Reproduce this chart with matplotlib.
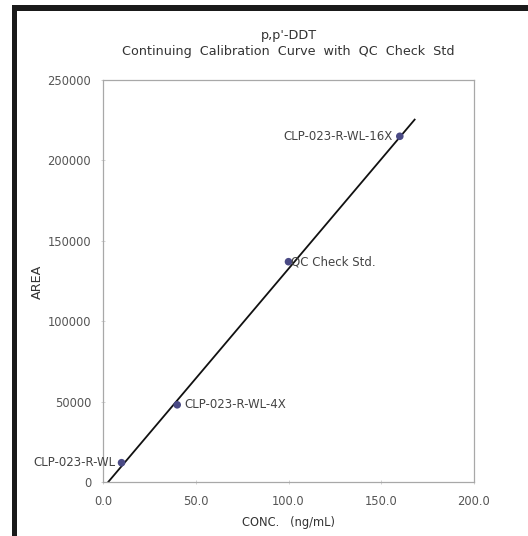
import numpy as np
import matplotlib
matplotlib.use("Agg")
import matplotlib.pyplot as plt
from matplotlib.patches import Rectangle

# Data
labels = ["CLP-023-R-WL", "CLP-023-R-WL-4X", "QC Check Std.", "CLP-023-R-WL-16X"]
conc = [10.0, 40.0, 100.0, 160.0]
area = [12000, 48000, 137000, 215000]
calib_idx = [0, 1, 3]
xticks = [0, 50, 100, 150, 200]
yticks = [0, 50000, 100000, 150000, 200000, 250000]

plt.rcParams['font.family'] = ['DejaVu Sans']

W, H = 528, 536
fig = plt.figure(figsize=(W / 100, H / 100), dpi=100)
fig.patch.set_facecolor("white")

# outer black frame (top and left)
fig.add_artist(Rectangle((12 / W, 0), 5 / W, 1 - 5 / H, transform=fig.transFigure,
                         facecolor="#1a1a1a", edgecolor="none"))
fig.add_artist(Rectangle((12 / W, 1 - 11 / H), 1 - 12 / W, 6 / H, transform=fig.transFigure,
                         facecolor="#1a1a1a", edgecolor="none"))

left, right, top, bottom = 103, 474, 80, 482
ax = fig.add_axes([left / W, 1 - bottom / H, (right - left) / W, (bottom - top) / H])

# trendline from calibration points
cx = np.array([conc[i] for i in calib_idx])
cy = np.array([area[i] for i in calib_idx])
slope, intercept = np.polyfit(cx, cy, 1)
x0 = -intercept / slope
xl = np.array([x0, 168.0])
ax.plot(xl, slope * xl + intercept, color="#111111", lw=1.3, zorder=2)

ax.scatter(conc, area, s=30, color="#4a4a85", zorder=3, edgecolors="none")

fs = 8.5
tc = "#444444"
ax.annotate(labels[0], (conc[0], area[0]), xytext=(-4, 0), textcoords="offset points",
            ha="right", va="center", fontsize=fs, color=tc)
ax.annotate(labels[1], (conc[1], area[1]), xytext=(5, 0), textcoords="offset points",
            ha="left", va="center", fontsize=fs, color=tc)
ax.annotate(labels[2], (conc[2], area[2]), xytext=(2, 0), textcoords="offset points",
            ha="left", va="center", fontsize=fs, color=tc)
ax.annotate(labels[3], (conc[3], area[3]), xytext=(-5, 0), textcoords="offset points",
            ha="right", va="center", fontsize=fs, color=tc)

ax.set_xlim(0, 200)
ax.set_ylim(0, 250000)
ax.set_xticks(xticks)
ax.set_xticklabels([f"{v:.1f}" for v in xticks])
ax.set_yticks(yticks)
ax.set_yticklabels([str(v) for v in yticks])
ax.tick_params(axis="both", labelsize=8.3, colors="#cccccc", labelcolor="#555555",
               length=3, direction="inout", width=0.6)
ax.tick_params(axis="x", pad=8)
ax.tick_params(axis="y", pad=7)
for s in ax.spines.values():
    s.set_color("#a8a8a8")
    s.set_linewidth(0.9)

ax.set_xlabel("CONC.   (ng/mL)", fontsize=8.3, color="#333333")
ax.xaxis.set_label_coords(0.5, -(516 - bottom) / (bottom - top), transform=ax.transAxes)
ax.set_ylabel("AREA", fontsize=9.2, color="#333333")
ax.yaxis.set_label_coords(-(left - 44) / (right - left), (bottom - 282) / (bottom - top))
ax.set_title("p,p'-DDT\nContinuing  Calibration  Curve  with  QC  Check  Std",
             fontsize=9.2, color="#333333", pad=18, linespacing=1.25)

fig.savefig("out.png", dpi=100)
